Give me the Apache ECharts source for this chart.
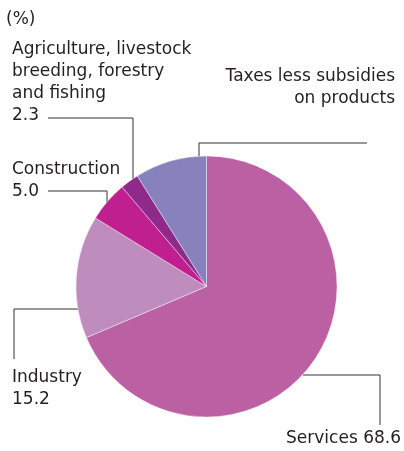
<!DOCTYPE html>
<html><head><meta charset="utf-8">
<script src="https://cdn.jsdelivr.net/npm/echarts@6/dist/echarts.min.js"></script>
<style>html,body{margin:0;padding:0;background:#fff}#c{width:404px;height:451px}</style>
</head><body><div id="c"></div>
<script>
var categories = ['Services', 'Industry', 'Construction', 'Agriculture, livestock breeding, forestry and fishing', 'Taxes less subsidies on products'];
var labelTexts = ['Services 68.6', 'Industry\n15.2', 'Construction\n5.0', 'Agriculture, livestock\nbreeding, forestry\nand fishing\n2.3', 'Taxes less subsidies\non products'];
var values = [68.6, 15.2, 5.0, 2.3, 8.9];
var colors = ['#bc60a4', '#be8dbe', '#c01f8f', '#8f2a8b', '#8782bc'];

// label placement (pixels)
var layouts = [
  {x: 401, y: 428, align: 'right', pts: [[303, 375], [380, 375], [380, 425]]},
  {x: 12, y: 367, align: 'left', pts: [[78, 309], [14, 309], [14, 359]]},
  {x: 12, y: 159, align: 'left', pts: [[107, 203], [107, 191], [48, 191]]},
  {x: 12, y: 39, align: 'left', pts: [[133, 179], [133, 118], [48, 118]]},
  {x: 395, y: 66, align: 'right', pts: [[199, 157], [199, 143], [367, 143]]}
];

var chart = echarts.init(document.getElementById('c'), null, {renderer: 'canvas'});
var FONT = 'DejaVu Sans';
chart.setOption({
  animation: false,
  title: {text: '(%)', left: 1, top: 6, textStyle: {fontFamily: FONT, fontSize: 17, fontWeight: 'normal', color: '#231f20'}},
  series: [{
    type: 'pie',
    center: [206.5, 286.5],
    radius: 130.5,
    startAngle: 90,
    clockwise: true,
    data: categories.map(function (c, i) {
      return {name: c, value: values[i], itemStyle: {color: colors[i]}};
    }),
    itemStyle: {borderColor: '#fff', borderWidth: 0.4},
    label: {
      show: true,
      overflow: 'none',
      width: 300,
      formatter: function (p) { return labelTexts[p.dataIndex]; },
      fontFamily: FONT, fontSize: 17, lineHeight: 22, color: '#231f20'
    },
    labelLine: {show: true, lineStyle: {color: '#333', width: 1}},
    labelLayout: function (p) {
      var L = layouts[p.dataIndex];
      return {x: L.x, y: L.y, align: L.align, verticalAlign: 'top', labelLinePoints: L.pts};
    },
    emphasis: {disabled: true}
  }]
});
</script></body></html>
